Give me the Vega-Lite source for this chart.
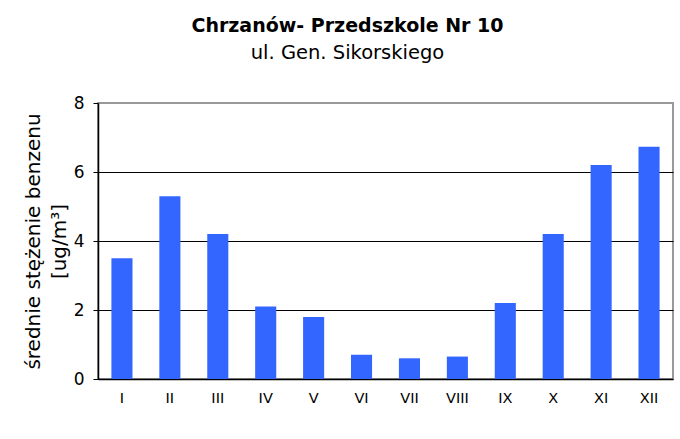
{
  "$schema": "https://vega.github.io/schema/vega-lite/v6.json",
  "autosize": "none",
  "padding": {"left": 98, "top": 103, "right": 7, "bottom": 60},
  "width": 575,
  "height": 276,
  "background": "white",
  "title": {
    "text": "Chrzanów- Przedszkole Nr 10",
    "subtitle": "ul. Gen. Sikorskiego",
    "anchor": "middle",
    "dx": -38,
    "offset": 32,
    "font": "DejaVu Sans",
    "fontSize": 19,
    "fontWeight": "bold",
    "color": "black",
    "subtitleFont": "DejaVu Sans",
    "subtitleFontSize": 19.5,
    "subtitleColor": "black",
    "subtitlePadding": 8
  },
  "data": {
    "values": [
      {"month": "I", "value": 3.5},
      {"month": "II", "value": 5.3},
      {"month": "III", "value": 4.2},
      {"month": "IV", "value": 2.1},
      {"month": "V", "value": 1.8},
      {"month": "VI", "value": 0.7},
      {"month": "VII", "value": 0.6},
      {"month": "VIII", "value": 0.65},
      {"month": "IX", "value": 2.2},
      {"month": "X", "value": 4.2},
      {"month": "XI", "value": 6.2},
      {"month": "XII", "value": 6.73}
    ]
  },
  "mark": {"type": "bar", "color": "#3366FF"},
  "encoding": {
    "x": {
      "field": "month",
      "type": "ordinal",
      "sort": null,
      "scale": {"paddingInner": 0.56, "paddingOuter": 0.28},
      "axis": {
        "title": null,
        "labelAngle": 0,
        "ticks": false,
        "labelPadding": 12,
        "labelFont": "DejaVu Sans",
        "labelFontSize": 14.5,
        "labelColor": "black",
        "domainColor": "black",
        "domainWidth": 1.5
      }
    },
    "y": {
      "field": "value",
      "type": "quantitative",
      "scale": {"domain": [0, 8], "nice": false},
      "axis": {
        "values": [0, 2, 4, 6, 8],
        "title": ["średnie stężenie benzenu", "[ug/m³]"],
        "titleFont": "DejaVu Sans",
        "titleFontSize": 20,
        "titleFontWeight": "normal",
        "titleColor": "black",
        "titleLineHeight": 26,
        "titleAngle": -90,
        "titleAlign": "center",
        "titleBaseline": "bottom",
        "titleX": -55,
        "titleY": 138,
        "labelFont": "DejaVu Sans",
        "labelFontSize": 17,
        "labelColor": "black",
        "labelPadding": 9,
        "tickSize": 5,
        "tickColor": "black",
        "domainColor": "black",
        "domainWidth": 1.5,
        "gridColor": "black",
        "gridOpacity": {"condition": {"test": "datum.value === 0 || datum.value === 8", "value": 0}, "value": 1}
      }
    }
  },
  "config": {
    "view": {"stroke": "#999999", "strokeWidth": 2}
  }
}
